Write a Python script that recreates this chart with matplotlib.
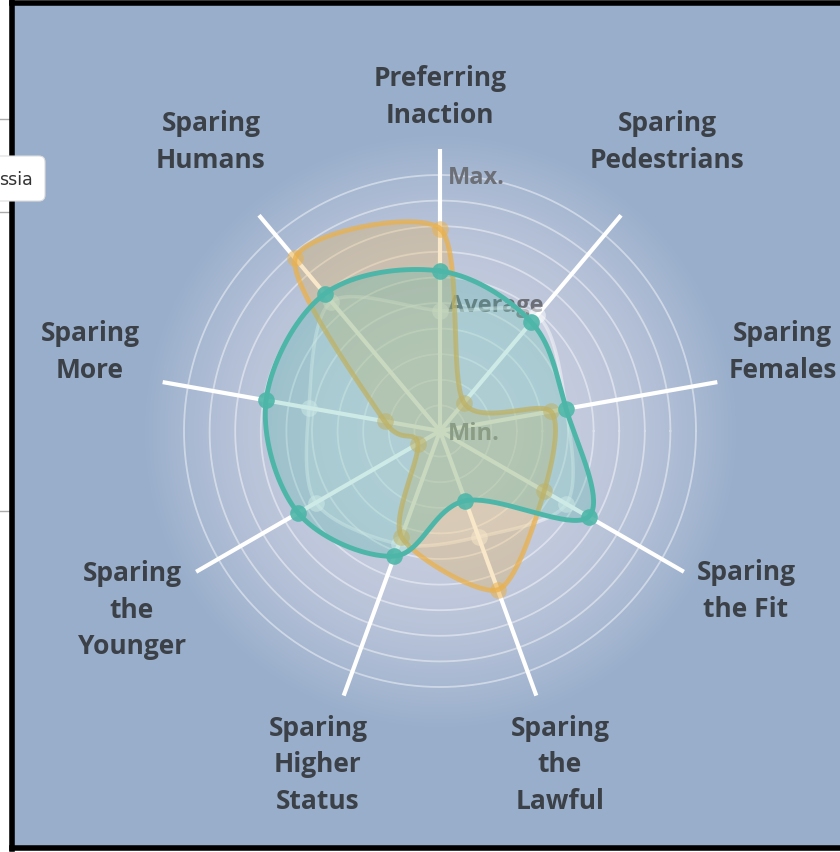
import numpy as np
import matplotlib.pyplot as plt
from matplotlib.patches import FancyBboxPatch

# ----------------------------- Data -----------------------------
categories = ["Preferring\nInaction", "Sparing\nPedestrians", "Sparing\nFemales",
              "Sparing\nthe Fit", "Sparing\nthe\nLawful", "Sparing\nHigher\nStatus",
              "Sparing\nthe\nYounger", "Sparing\nMore", "Sparing\nHumans"]
# values on a 0 (Min.) .. 1 (Max.) scale
average = [0.47, 0.59, 0.50, 0.57, 0.44, 0.47, 0.56, 0.52, 0.66]
teal_country = [0.625, 0.555, 0.50, 0.67, 0.29, 0.52, 0.64, 0.69, 0.70]
orange_country = [0.79, 0.145, 0.44, 0.47, 0.66, 0.44, 0.10, 0.22, 0.88]
ring_labels = ["Max.", "Average", "Min."]
ring_values = [1.0, 0.5, 0.0]

# ----------------------------- Layout -----------------------------
W, H = 840, 853
CX, CY, R = 440, 432, 256
BG = "#98aecb"
TEXT = "#3c4047"
TEAL = "#4db6a8"
ORANGE = "#eab14c"

angles = np.deg2rad(90 - 40 * np.arange(len(categories)))


def to_xy(vals, scale=R):
    v = np.asarray(vals) * scale
    return CX + v * np.cos(angles), CY - v * np.sin(angles)


def closed_spline(xs, ys, tension=0.5, n=40):
    pts = np.column_stack([xs, ys])
    N = len(pts)
    t = np.linspace(0, 1, n, endpoint=False)[:, None]
    h00 = 2 * t**3 - 3 * t**2 + 1
    h10 = t**3 - 2 * t**2 + t
    h01 = -2 * t**3 + 3 * t**2
    h11 = t**3 - t**2
    out = []
    for i in range(N):
        p0, p1, p2, p3 = pts[i - 1], pts[i], pts[(i + 1) % N], pts[(i + 2) % N]
        m1 = tension * (p2 - p0)
        m2 = tension * (p3 - p1)
        out.append(h00 * p1 + h10 * m1 + h01 * p2 + h11 * m2)
    out = np.vstack(out + [pts[:1]])
    return out[:, 0], out[:, 1]


fig = plt.figure(figsize=(W / 100, H / 100), dpi=100, facecolor="white")
ax = fig.add_axes([0, 0, 1, 1])
ax.set_xlim(0, W)
ax.set_ylim(H, 0)
ax.axis("off")

# panel background with soft radial glow
ax.add_patch(plt.Rectangle((13, 5), W - 13, H - 10, facecolor=BG, edgecolor="none", zorder=0))
yy, xx = np.mgrid[0:H, 0:W]
rr = np.hypot(xx - CX, yy - CY)
glow = np.zeros((H, W, 4))
glow[..., :3] = (0.96, 0.92, 0.95)
glow[..., 3] = 0.58 * np.clip(1 - (rr / 300.0) ** 2.2, 0, 1)
glow[:, :13, 3] = 0
ax.imshow(glow, extent=(0, W, H, 0), zorder=0.5, interpolation="bilinear")

# rings
th = np.linspace(0, 2 * np.pi, 400)
for k in range(1, 11):
    r = R * k / 10
    ax.plot(CX + r * np.cos(th), CY + r * np.sin(th), color="white", alpha=0.45, lw=1.3, zorder=1)

# spokes
sx, sy = to_xy(np.full(len(categories), 1.1))
for x, y in zip(sx, sy):
    ax.plot([CX, x], [CY, y], color="white", lw=3, solid_capstyle="butt", zorder=2)

# ring labels
for lbl, v in zip(ring_labels, ring_values):
    ax.text(CX + 8, CY - v * R + 2, lbl, fontsize=17, fontweight="bold", color="#6c6f75",
            family="Open Sans", ha="left", va="center", zorder=2.5)

# category labels
label_pos = [(440, 97, "center"), (667, 142, "center"), (837, 352, "right"),
             (746, 591, "center"), (560, 765, "center"), (318, 765, "center"),
             (132, 610, "center"), (90, 352, "center"), (211, 142, "center")]
for lbl, (x, y, ha) in zip(categories, label_pos):
    ax.text(x, y, lbl, fontsize=19, fontweight="bold", color=TEXT, family="Open Sans",
            ha=ha, va="center", multialignment="center", linespacing=1.45, zorder=3)

# series
series = [
    (average, "white", 0.16, 0.45, 2.5, 0.5, 0.45),
    (orange_country, ORANGE, 0.30, 0.75, 3.5, 0.55, 0.4),
    (teal_country, TEAL, 0.28, 1.0, 3.5, 0.9, 0.5),
]
for z, (vals, col, fa, la, lw, ma, tens) in enumerate(series):
    px, py = to_xy(vals)
    cx_, cy_ = closed_spline(px, py, tension=tens)
    ax.fill(cx_, cy_, color=col, alpha=fa, lw=0, zorder=4 + z)
    ax.plot(cx_, cy_, color=col, alpha=la, lw=lw, zorder=4 + z)
    ax.plot(px, py, "o", ms=12, color=col, alpha=ma, mec="none", zorder=4 + z)

# frame and cropped neighbour
ax.plot([12, 12], [3, H - 3], color="black", lw=4, zorder=10)
ax.plot([12, W], [4, 4], color="black", lw=4, zorder=10)
ax.plot([12, W], [H - 4, H - 4], color="black", lw=4, zorder=10)
for y in [120, 213, 512]:
    ax.plot([0, 10], [y, y], color="#aaaaaa", lw=1, zorder=9)
ax.add_patch(FancyBboxPatch((-10, 157), 55, 45, boxstyle="round,pad=0,rounding_size=6",
                            facecolor="white", edgecolor="#dddddd", lw=0.8, zorder=11))
ax.text(-1, 180, "ssia", fontsize=12.5, color="#333333", ha="left", va="center", zorder=12)

fig.savefig("out.png", dpi=100, facecolor="white")
